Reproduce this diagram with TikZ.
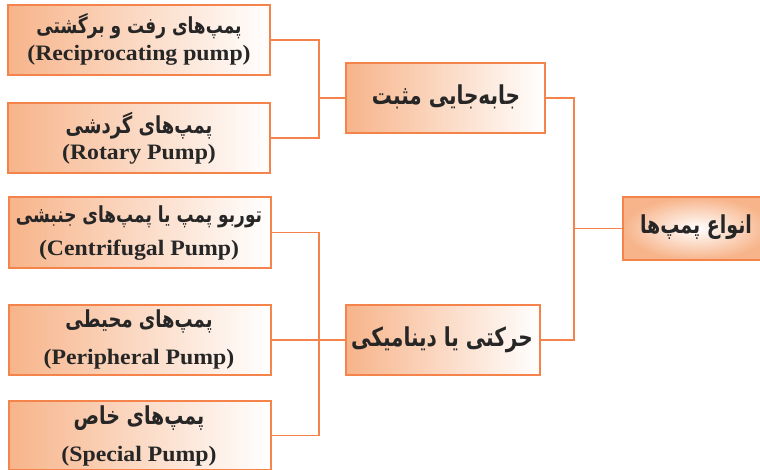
\documentclass[tikz,border=0pt]{standalone}
\usepackage{graphicx}
\usepackage{fontspec}
\setmainfont{Liberation Serif}
\newfontfamily\fa[Script=Arabic]{DejaVu Sans}
\TeXXeTstate=1
\definecolor{edgeor}{HTML}{F4834C}
\definecolor{fillor}{HTML}{F7B48A}
% Persian label: bold, slightly taller glyphs
\newcommand\fatext[2]{\scalebox{1}[1.3]{\fa\bfseries\fontsize{#1}{#1}\selectfont #2}}
% English label: bold serif, slightly widened
\newcommand\entext[1]{\scalebox{1.08}[1]{\bfseries\fontsize{22}{24}\selectfont #1}}
\begin{document}
\begin{tikzpicture}[x=1pt,y=-1pt,
  leafbox/.style={draw=edgeor,line width=2pt,left color=fillor,right color=white,
    minimum width=262pt,inner sep=0pt,rectangle},
  midbox/.style={draw=edgeor,line width=2pt,left color=fillor,right color=white,
    inner sep=0pt,rectangle},
  rootbox/.style={draw=edgeor,line width=2pt,inner color=white,outer color=fillor,
    inner sep=0pt,rectangle},
  link/.style={draw=edgeor,line width=1.6pt},
  txt/.style={text=black!85,inner sep=0pt}]
\useasboundingbox (0,0) rectangle (760,469);
\fill[white] (0,0) rectangle (760,469);
% leaf boxes on the left
\node[leafbox,minimum height=70pt] (b1) at (139,40) {};
\node[leafbox,minimum height=70pt] (b2) at (139,138) {};
\node[leafbox,minimum height=71pt] (b3) at (139.5,232.5) {};
\node[leafbox,minimum height=70pt] (b4) at (139.5,340) {};
\node[leafbox,minimum height=69pt] (b5) at (139.5,435.5) {};
% middle boxes
\node[midbox,minimum width=199pt,minimum height=70pt] (pd) at (445.5,98) {};
\node[midbox,minimum width=194pt,minimum height=70pt] (dy) at (443,340) {};
% root box
\node[rootbox,minimum width=147pt,minimum height=63pt] (rt) at (696.5,228.5) {};
% labels
\node[txt] (t1a) at (139,26) {\fatext{17}{\beginR پمپ‌های رفت و برگشتی\endR}};
\node[txt] (t1b) at (139,55) {\entext{(Reciprocating pump)}};
\node[txt] (t2a) at (139,126) {\fatext{18}{\beginR پمپ‌های گردشی\endR}};
\node[txt] (t2b) at (139,154) {\entext{(Rotary Pump)}};
\node[txt] (t3a) at (139,217) {\fatext{17}{\beginR توربو پمپ یا پمپ‌های جنبشی\endR}};
\node[txt] (t3b) at (139,250) {\entext{(Centrifugal Pump)}};
\node[txt] (t4a) at (139,321) {\fatext{18}{\beginR پمپ‌های محیطی\endR}};
\node[txt] (t4b) at (139,359) {\entext{(Peripheral Pump)}};
\node[txt] (t5a) at (139,418) {\fatext{19}{\beginR پمپ‌های خاص\endR}};
\node[txt] (t5b) at (139,456) {\entext{(Special Pump)}};
\node[txt] (tpd) at (446,97) {\fatext{20}{\beginR جابه‌جایی مثبت\endR}};
\node[txt] (tdy) at (442,340) {\fatext{20}{\beginR حرکتی یا دینامیکی\endR}};
\node[txt] (trt) at (696,227) {\fatext{19}{\beginR انواع پمپ‌ها\endR}};
% connectors
\coordinate (jl) at (319,0);
\coordinate (jr) at (574,0);
\draw[link] (b1.east) -| (jl |- b2.east) -- (b2.east);
\draw[link] (jl |- pd.west) -- (pd.west);
\draw[link] (b3.east) -| (jl |- b5.east) -- (b5.east);
\draw[link] (b4.east) -- (dy.west);
\draw[link] (pd.east) -| (jr |- dy.east) -- (dy.east);
\draw[link] (jr |- rt.west) -- (rt.west);
\end{tikzpicture}
\end{document}
